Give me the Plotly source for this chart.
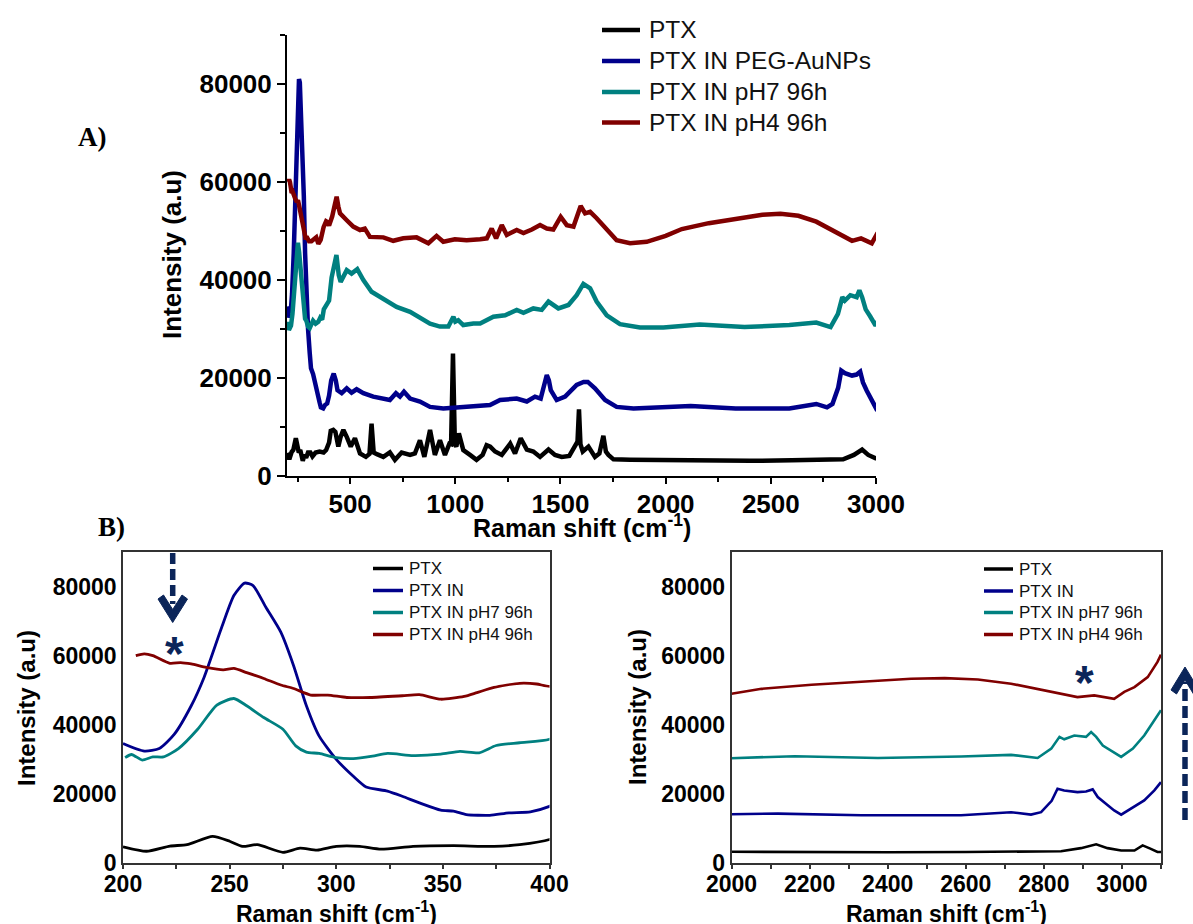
import plotly.graph_objects as go

# ---------------------------------------------------------------------------
# Raman spectra (Raman shift in cm-1, intensity in a.u.)
# ---------------------------------------------------------------------------
ptx_shift = [200, 211, 222, 230, 242, 250, 256, 263, 275, 283, 291, 300, 311, 321, 336, 355,
             374, 386, 400, 408, 420, 430, 444, 455, 468, 484, 503, 523, 547, 575, 592, 602,
             612, 630, 658, 689, 713, 745, 785, 808, 832, 853, 880, 903, 927, 951, 972, 980,
             989, 998, 1005, 1017, 1038, 1070, 1101, 1130, 1149, 1166, 1189, 1221, 1261, 1284,
             1311, 1340, 1371, 1403, 1443, 1474, 1506, 1542, 1569, 1581, 1588, 1595, 1606, 1633,
             1664, 1685, 1704, 1716, 1728, 1752, 1831, 2000, 2200, 2400, 2600, 2800, 2844, 2895,
             2934, 2963, 2998, 3032, 3053, 3074, 3091, 3100]
ptx_int = [4700, 3400, 4900, 5300, 7700, 6300, 4800, 5300, 3100, 4300, 3700, 4800, 4800, 4000, 4800, 5000,
           4800, 5300, 6800, 9200, 9400, 9000, 6000, 8000, 9400, 8000, 6000, 7700, 4600, 3900, 4500, 10700,
           4800, 4400, 3900, 4800, 3300, 4800, 4300, 4600, 7300, 3900, 9400, 4300, 7300, 4300, 6600, 6500,
           25000, 6500, 6000, 8700, 5300, 4300, 3300, 4300, 6300, 6000, 5000, 4300, 6600, 4600,
           7700, 5400, 5000, 3900, 5400, 4300, 3900, 4100, 6000, 7000, 13600, 6500, 5000, 6000,
           3900, 4600, 8200, 5000, 4300, 3400, 3300, 3200, 3200, 3100, 3200, 3200, 3400, 4300,
           5400, 4300, 3600, 3600, 5100, 4100, 3200, 3200]

ptx_in_shift = [200, 210, 217, 224, 232, 238, 246, 252, 257, 261, 267, 274, 280, 286, 292, 300,
                308, 314, 324, 331, 339, 349, 355, 361, 372, 381, 391, 400, 410, 422, 432, 440,
                460, 484, 507, 531, 563, 610, 658, 689, 718, 737, 756, 785, 832, 880, 943, 1038,
                1118, 1165, 1213, 1292, 1340, 1379, 1406, 1425, 1435, 1445, 1454, 1482, 1522, 1577,
                1610, 1630, 1664, 1712, 1767, 1847, 1989, 2119, 2333, 2588, 2716, 2767, 2793, 2820,
                2835, 2852, 2886, 2908, 2925, 2938, 2955, 2980, 2998, 3023, 3057, 3083, 3100]
ptx_in_int = [34600, 32400, 33100, 37200, 45500, 53700, 67700, 77400, 81000, 80300, 74000, 66800, 57100, 45500, 36700, 30000,
              25100, 22000, 20800, 19300, 17400, 15300, 15000, 14000, 13800, 14500, 14800, 16400, 19500, 20900, 19500, 17500,
              16900, 17900, 17000, 17700, 16900, 16200, 15800, 15500, 16900, 16200, 17200, 15800, 15200, 14100, 13800, 14100,
              14500, 14500, 15500, 15800, 15200, 16200, 15800, 18500, 20600, 19500, 17500, 15500, 16200, 18600,
              19200, 19200, 17900, 15500, 14100, 13800, 14100, 14300, 13800, 13800, 14700, 14000, 14700, 18000,
              21500, 21000, 20500, 20700, 21300, 19100, 17500, 15200, 14000, 15700, 18100, 21000, 23400]

ph7_shift = [201, 204, 209, 214, 219, 226, 235, 244, 252, 258, 266, 275, 281, 286, 292, 300,
             308, 317, 324, 336, 349, 358, 367, 375, 386, 400, 412, 425, 435, 446, 455, 484,
             507, 534, 563, 602, 658, 721, 785, 832, 880, 927, 967, 991, 1000, 1014, 1038, 1086,
             1118, 1181, 1237, 1292, 1324, 1371, 1411, 1443, 1490, 1538, 1577, 1609, 1641, 1672,
             1720, 1783, 1878, 1989, 2162, 2375, 2588, 2716, 2784, 2819, 2840, 2852, 2878, 2908,
             2921, 2934, 2951, 2972, 2998, 3028, 3057, 3074, 3100]
ph7_int = [30500, 31400, 29800, 30700, 30700, 33100, 38700, 45700, 47600, 45500, 42100, 38700, 33900, 32100, 31700, 30500,
           30200, 30900, 31700, 31100, 31500, 32300, 31900, 34000, 34800, 35800, 40500, 43500, 45100, 41000, 39600, 42000,
           41300, 42200, 40000, 37600, 36200, 34500, 33500, 32200, 31100, 30500, 30500, 32500, 31500, 31800, 30800, 31100,
           31100, 32500, 32800, 33900, 33300, 34200, 33900, 35600, 34200, 34900, 36900, 39200, 38300, 35600,
           32800, 31000, 30300, 30300, 30900, 30400, 30800, 31300, 30400, 33100, 36500, 35800, 36900, 36500,
           37900, 36500, 34000, 32600, 30700, 33100, 36900, 39800, 44200]

ph4_shift = [206, 210, 214, 222, 227, 232, 239, 247, 252, 258, 266, 274, 280, 288, 296, 305,
             316, 331, 339, 349, 360, 366, 374, 386, 394, 400, 415, 428, 436, 444, 452, 484,
             515, 547, 570, 594, 658, 705, 753, 816, 872, 911, 943, 998, 1054, 1118, 1150, 1173,
             1194, 1221, 1245, 1292, 1324, 1364, 1403, 1435, 1466, 1501, 1530, 1562, 1596, 1617,
             1641, 1672, 1720, 1767, 1831, 1910, 2000, 2077, 2205, 2333, 2460, 2546, 2631, 2716,
             2802, 2886, 2929, 2980, 3006, 3032, 3066, 3091, 3100]
ph4_int = [60000, 60500, 60000, 57800, 58000, 57600, 56600, 55900, 56300, 55100, 53400, 51500, 50500, 48600, 48600, 47900,
           47900, 48400, 48700, 47400, 48200, 49300, 50800, 52000, 51800, 51100, 53000, 55500, 57000, 55000, 53600, 52200,
           50900, 50200, 50500, 48800, 48700, 48000, 48500, 48700, 47500, 49000, 47800, 48300, 48100, 48300, 48500, 50500,
           48500, 51200, 49200, 50200, 49600, 50300, 51200, 50500, 50300, 52900, 51200, 50900, 55100, 53600,
           53900, 52600, 50200, 48100, 47500, 47800, 49000, 50400, 51600, 52500, 53300, 53500, 53100, 51900,
           50000, 48000, 48500, 47500, 49500, 50900, 53800, 58200, 60300]

# series names (overview legend / detail legends) and colours
names_overview = ["PTX", "PTX IN PEG-AuNPs", "PTX IN pH7 96h", "PTX IN pH4 96h"]
names_detail = ["PTX", "PTX IN", "PTX IN pH7 96h", "PTX IN pH4 96h"]
colors = ["#000000", "#00008b", "#008080", "#800000"]

shifts = [ptx_shift, ptx_in_shift, ph7_shift, ph4_shift]
intensities = [ptx_int, ptx_in_int, ph7_int, ph4_int]

# axis tick settings
y_ticks = [0, 20000, 40000, 60000, 80000]

W, H = 1193, 924
FONT = "Liberation Sans"
SERIF = "Liberation Serif"
NAVY = "#0b2559"


def px(xp):
    return xp / W


def py(yp):
    return 1 - yp / H


fig = go.Figure()

for sx, sy, col in zip(shifts, intensities, colors):
    fig.add_trace(go.Scatter(x=sx, y=sy, mode="lines", xaxis="x", yaxis="y",
                             line=dict(color=col, width=4.5), showlegend=False))
    fig.add_trace(go.Scatter(x=sx, y=sy, mode="lines", xaxis="x2", yaxis="y2",
                             line=dict(color=col, width=2.8, shape="spline", smoothing=0.6),
                             showlegend=False))
    fig.add_trace(go.Scatter(x=sx, y=sy, mode="lines", xaxis="x3", yaxis="y3",
                             line=dict(color=col, width=2.6), showlegend=False))

bold = lambda s: dict(family=FONT, size=s, color="black", weight="bold")

common_y = dict(range=[0, 90000], tickvals=y_ticks, tickformat="d", showgrid=False,
                zeroline=False, showline=True, linecolor="black", automargin=False)

fig.update_layout(
    width=W, height=H, margin=dict(l=0, r=0, t=0, b=0, autoexpand=False),
    paper_bgcolor="white", plot_bgcolor="white",
    # overview spectrum
    xaxis=dict(domain=[px(287), px(876)], range=[200, 3000], anchor="y", automargin=False,
               tick0=0, dtick=500, showgrid=False, zeroline=False,
               showline=True, linecolor="black", linewidth=2,
               ticks="outside", ticklen=6, tickwidth=2, tickcolor="black",
               minor=dict(dtick=250, tick0=0, ticks="outside", ticklen=4, tickwidth=2, tickcolor="black"),
               tickfont=bold(26), ticklabelstandoff=-2),
    yaxis=dict(domain=[py(476), py(35)], anchor="x", linewidth=2,
               ticks="outside", ticklen=8, tickwidth=2, tickcolor="black",
               minor=dict(dtick=10000, tick0=0, ticks="outside", ticklen=5, tickwidth=2, tickcolor="black"),
               tickfont=bold(26), **common_y),
    # low-wavenumber detail
    xaxis2=dict(domain=[px(123), px(549.5)], range=[200, 400], anchor="y2", automargin=False,
                tick0=200, dtick=50, showgrid=False, zeroline=False,
                showline=True, mirror=True, linecolor="#333333", linewidth=1.5,
                ticks="outside", ticklen=4, tickwidth=1.5, tickcolor="#333333",
                minor=dict(dtick=25, tick0=200, ticks="outside", ticklen=4, tickwidth=1.5, tickcolor="#333333"),
                tickfont=bold(23), ticklabelstandoff=-4),
    yaxis2=dict(domain=[py(863), py(552)], anchor="x2", mirror=True, linewidth=1.5,
                ticks="", tickfont=bold(23), **{**common_y, "linecolor": "#333333"}),
    # high-wavenumber detail
    xaxis3=dict(domain=[px(731.5), px(1161)], range=[2000, 3100], anchor="y3", automargin=False,
                tick0=2000, dtick=200, showgrid=False, zeroline=False,
                showline=True, mirror=True, linecolor="#333333", linewidth=1.5,
                ticks="outside", ticklen=4, tickwidth=1.5, tickcolor="#333333",
                minor=dict(dtick=100, tick0=2000, ticks="outside", ticklen=4, tickwidth=1.5, tickcolor="#333333"),
                tickfont=bold(23), ticklabelstandoff=-4),
    yaxis3=dict(domain=[py(863), py(552)], anchor="x3", mirror=True, linewidth=1.5,
                ticks="", tickfont=bold(23), **{**common_y, "linecolor": "#333333"}),
)

annotations = []
shapes = []


def text(x, y, s, font, xanchor="center", yanchor="middle", angle=0):
    annotations.append(dict(x=px(x), y=py(y), xref="paper", yref="paper", text=s,
                            showarrow=False, xanchor=xanchor, yanchor=yanchor,
                            textangle=angle, font=font))


# axis titles
text(172, 255, "Intensity (a.u)", bold(26), angle=-90)
text(582, 526, "Raman shift (cm<sup>-1</sup>)", bold(25))
text(26, 708, "Intensity (a.u)", bold(24), angle=-90)
text(336, 912, "Raman shift (cm<sup>-1</sup>)", bold(23))
text(637, 707, "Intensity (a.u)", bold(24), angle=-90)
text(946, 912, "Raman shift (cm<sup>-1</sup>)", bold(23))

# panel letters
text(92, 137, "A)", dict(family=SERIF, size=27, color="black", weight="bold"))
text(111, 527, "B)", dict(family=SERIF, size=27, color="black", weight="bold"))

# legends
def legend(x0, x1, xt, rows, names, size, lw):
    for yy, nm, col in zip(rows, names, colors):
        shapes.append(dict(type="line", xref="paper", yref="paper",
                           x0=px(x0), x1=px(x1), y0=py(yy), y1=py(yy),
                           line=dict(color=col, width=lw)))
        text(xt, yy, nm, dict(family=FONT, size=size, color="#111111"), xanchor="left")


legend(602, 640, 647, [30, 61, 92, 122.5], names_overview, 24.5, 4.5)
legend(373, 403, 406.5, [568.5, 590.5, 612.5, 634.5], names_detail, 17, 3.5)
legend(984, 1013, 1017, [569, 591, 612.5, 634.5], names_detail, 17, 3.5)

# markers of the band of interest
text(174.5, 653, "*", dict(family=FONT, size=48, color=NAVY, weight="bold"))
text(1084.5, 682, "*", dict(family=FONT, size=48, color=NAVY, weight="bold"))

# dashed arrows
shapes.append(dict(type="line", xref="paper", yref="paper", x0=px(172.7), x1=px(172.7),
                   y0=py(553), y1=py(604), line=dict(color=NAVY, width=5.5, dash="11px,5px")))
shapes.append(dict(type="path", xref="paper", yref="paper",
                   path=(f"M {px(158)},{py(599)} L {px(172.7)},{py(622.5)} L {px(187.5)},{py(599)} "
                         f"L {px(182)},{py(595)} L {px(172.7)},{py(609.5)} L {px(163.5)},{py(595)} Z"),
                   fillcolor=NAVY, line=dict(color=NAVY, width=1)))
shapes.append(dict(type="line", xref="paper", yref="paper", x0=px(1185), x1=px(1185),
                   y0=py(820), y1=py(682), line=dict(color=NAVY, width=5.5, dash="12px,5px")))
shapes.append(dict(type="path", xref="paper", yref="paper",
                   path=(f"M {px(1171)},{py(690)} L {px(1185)},{py(667)} L {px(1199)},{py(690)} "
                         f"L {px(1193.5)},{py(694)} L {px(1185)},{py(680)} L {px(1176.5)},{py(694)} Z"),
                   fillcolor=NAVY, line=dict(color=NAVY, width=1)))

fig.update_layout(annotations=annotations, shapes=shapes)

fig.write_html("out.html")
